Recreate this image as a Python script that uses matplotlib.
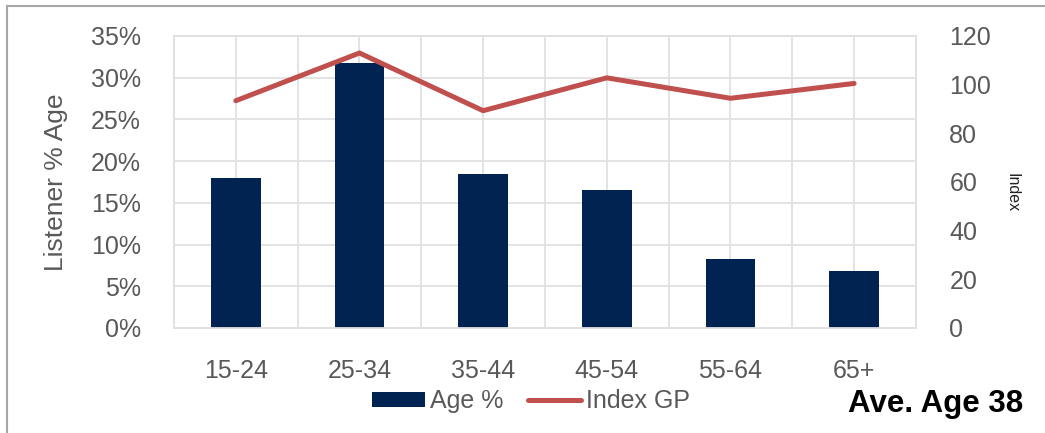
import matplotlib.pyplot as plt
from matplotlib.lines import Line2D
from matplotlib.patches import Patch
from matplotlib.ticker import FuncFormatter

plt.rcParams['font.family'] = ['Liberation Sans', 'DejaVu Sans']

# data
ages = ['15-24', '25-34', '35-44', '45-54', '55-64', '65+']
age_pct = [18.0, 31.8, 18.4, 16.5, 8.3, 6.8]
index_gp = [93.4, 113.0, 89.3, 102.8, 94.4, 100.5]

navy = '#002352'
red = '#C0504D'
grey_txt = '#595959'
grid_c = '#E0E0E0'

fig = plt.figure(figsize=(10.45, 4.33), dpi=100)
ax = fig.add_axes([0.1665, 0.2425, 0.71, 0.6744])
ax2 = ax.twinx()

x = list(range(len(ages)))
ax.bar(x, [v / 100 for v in age_pct], width=0.4, color=navy, zorder=3)
ax2.plot(x, index_gp, color=red, lw=3.6, solid_capstyle='round', zorder=4)

ax.set_xlim(-0.5, 5.5)
ax.set_ylim(0, 0.35)
ax.set_yticks([i * 0.05 for i in range(8)])
ax.yaxis.set_major_formatter(FuncFormatter(lambda v, p: f'{v * 100:.0f}%'))
ax2.set_ylim(0, 120)
ax2.set_yticks(range(0, 121, 20))

ax.set_xticks(x)
ax.set_xticklabels(ages)
ax.set_xticks([i + 0.5 for i in range(5)], minor=True)
ax.grid(True, which='both', axis='x', color=grid_c, lw=1.3, zorder=0)
ax.grid(True, which='major', axis='y', color=grid_c, lw=1.3, zorder=0)
ax.set_axisbelow(True)

for a in (ax, ax2):
    a.tick_params(which='both', length=0, labelsize=18, labelcolor=grey_txt)
    for s in a.spines.values():
        s.set_color(grid_c)
        s.set_linewidth(1.3)
ax.tick_params(axis='y', pad=24)
ax.tick_params(axis='x', pad=22)
ax2.tick_params(axis='y', pad=24)
ax2.set_zorder(ax.get_zorder() + 1)
ax2.patch.set_visible(False)

ax.set_ylabel('Listener % Age', fontsize=19, color=grey_txt, labelpad=16)
fig.text(0.968, 0.555, 'Index', rotation=-90, fontsize=11.5, color='#222222',
         ha='center', va='center')

handles = [Patch(facecolor=navy, label='Age %'),
           Line2D([0], [0], color=red, lw=3.6, solid_capstyle='round', label='Index GP')]
fig.legend(handles=handles, loc='center', bbox_to_anchor=(0.508, 0.074), ncol=2,
           frameon=False, fontsize=18, labelcolor=grey_txt, handlelength=2.1,
           handleheight=0.55, handletextpad=0.2, columnspacing=1.0)

fig.text(0.979, 0.068, 'Ave. Age 38', fontsize=22.5, fontweight='bold',
         ha='right', va='center', color='black')

# outer chart border (left and top edges visible in the reference)
fig.add_artist(Line2D([0.0067, 0.0067], [0.0, 0.986], color='#A6A6A6', lw=1.5))
fig.add_artist(Line2D([0.0067, 1.0], [0.986, 0.986], color='#A6A6A6', lw=1.5))

fig.savefig('out.png', dpi=100)
